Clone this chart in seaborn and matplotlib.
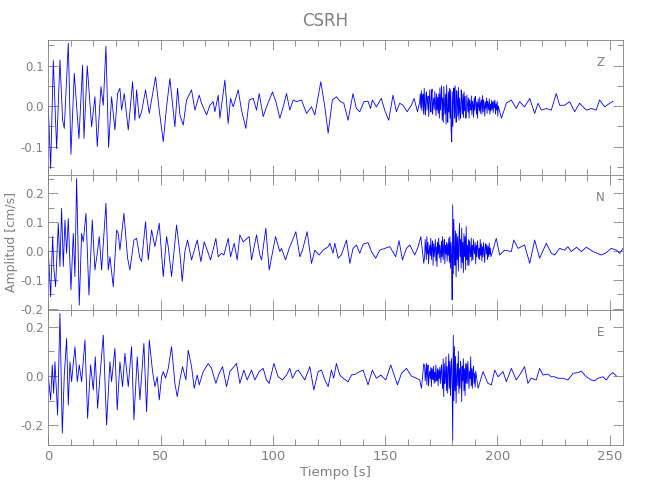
import numpy as np
import pandas as pd
import matplotlib
matplotlib.use("Agg")
import matplotlib.pyplot as plt
import seaborn as sns
from matplotlib.ticker import MultipleLocator, FormatStrFormatter

# --- datos leidos del sismograma (extremos aproximados) ---
z_time = [0.0, 1.04, 2.23, 3.71, 5.19, 6.38, 7.12, 8.90, 10.09, 11.57, 13.65, 15.28, 15.88, 17.36,
          19.29, 20.77, 21.81, 23.44, 24.48, 25.67, 26.85, 28.19, 29.67, 30.86, 31.90, 32.64, 33.83,
          35.61, 37.54, 38.58, 39.32, 40.50, 41.54, 43.32, 44.96, 47.77, 49.41, 51.19, 52.67, 54.15,
          56.38, 57.57, 58.61, 60.09, 61.57, 63.80, 65.28, 67.21, 68.25, 70.47, 71.96, 73.44, 74.18,
          75.67, 76.41, 78.64, 80.12, 81.16, 82.34, 84.57, 86.05, 87.98, 89.47, 91.25, 92.73, 93.92,
          95.70, 97.18, 99.85, 101.34, 103.12, 104.60, 106.08, 107.57, 109.05, 110.53, 112.76, 114.99,
          117.21, 118.69, 121.36, 123.15, 124.63, 126.5, 128.3, 130.1, 131.6, 133.5, 135.7, 137.2,
          138.7, 140.6, 142.4, 143.5, 144.3, 146.1, 148.3, 149.8, 151.6, 153.5, 155.0, 156.5, 158.0,
          159.8, 161.7, 162.9, 164.4,
          201.8, 204.0, 206.2, 208.4, 209.9, 212.1, 214.4, 216.6, 218.1, 219.6, 221.8, 224.0, 226.2,
          227.7, 229.9, 232.2, 234.4, 236.6, 239.6, 241.8, 244.0, 245.5, 247.8, 250.0, 251.5]
z_amp = [0.0, -0.154, 0.112, -0.105, 0.114, -0.035, -0.055, 0.155, -0.119, 0.081, -0.080, 0.101, -0.080,
         0.099, -0.051, 0.023, -0.100, 0.048, 0.002, 0.148, -0.102, 0.023, -0.059, 0.031, 0.044, -0.010,
         0.031, -0.059, 0.060, -0.035, 0.040, -0.030, -0.014, 0.040, -0.018, 0.072, -0.010, -0.088,
         -0.002, 0.068, -0.051, 0.044, -0.022, -0.047, 0.015, 0.040, -0.010, 0.027, 0.007, -0.022,
         0.002, 0.011, -0.014, 0.027, -0.030, 0.064, -0.043, 0.019, -0.002, 0.040, -0.010, -0.055,
         0.015, 0.019, -0.010, 0.031, -0.026, -0.002, 0.035, 0.011, -0.030, -0.002, 0.031, -0.010,
         0.015, 0.011, 0.015, -0.018, -0.002, -0.022, 0.060, -0.002, -0.067, 0.015, 0.023, 0.011,
         0.007, -0.035, 0.031, -0.006, -0.014, 0.011, 0.012, -0.006, 0.015, -0.002, 0.019, -0.010,
         -0.035, 0.027, -0.014, 0.007, 0.002, -0.014, 0.002, 0.019, -0.014,
         -0.030, 0.007, 0.015, -0.006, 0.011, -0.002, 0.019, -0.018, 0.007, -0.010, -0.006, -0.010,
         0.031, 0.002, 0.002, 0.011, -0.014, 0.007, -0.010, -0.006, -0.010, 0.015, -0.002, 0.007, 0.012]
z_burst_t0 = 165.4
z_burst = [0.01, 0.03, -0.005, 0.038, -0.012, 0.02, 0.03, -0.02, 0.044, 0.0,
           -0.022, 0.028, 0.035, -0.01, 0.015, 0.025, -0.026, 0.01, 0.04, 0.005,
           -0.015, 0.03, 0.042, -0.02, 0.005, 0.02, -0.008, 0.036, 0.01, -0.024,
           0.03, -0.01, 0.022, -0.018, 0.03,
           -0.03, 0.045, -0.01, 0.02, 0.05, -0.035, 0.02, -0.04, 0.048, 0.005,
           -0.02, 0.03, -0.045, 0.052, -0.01, -0.04, 0.035, -0.015, 0.044, -0.03,
           0.04, -0.06, -0.088, 0.035, -0.05, 0.02, 0.045, -0.03, 0.05, -0.015,
           -0.04, 0.038, 0.01, -0.025, 0.046, -0.035, 0.02, -0.01, -0.03, 0.04,
           0.015, -0.02, 0.03, -0.028, 0.035, -0.012, 0.024, -0.03,
           -0.025, 0.027, 0.005, -0.015, 0.02, -0.03, 0.015, 0.0, -0.01, 0.025,
           -0.022, 0.012, 0.004, -0.028, 0.02, -0.01, 0.024, 0.008, -0.02, 0.01,
           -0.03, 0.018, 0.002, -0.012, 0.022, -0.018, 0.008, 0.015, -0.02, 0.026,
           -0.014, 0.015, 0.0, -0.025, 0.01, -0.005, 0.02, -0.018, 0.012, 0.004,
           -0.01, 0.018, -0.02, 0.005, -0.012, 0.014, -0.008, 0.01, -0.016, 0.012,
           -0.004, 0.015, -0.02, 0.006, -0.01, 0.012, -0.025, 0.0]

n_time = [0.0, 1.04, 1.93, 2.52, 3.26, 4.45, 5.19, 5.93, 6.68, 7.42, 8.16, 8.90, 10.09, 11.13, 11.87,
          12.61, 13.80, 14.84, 15.58, 16.77, 18.10, 19.58, 20.77, 21.81, 22.70, 23.74, 25.67, 26.71,
          27.45, 28.93, 30.42, 31.16, 31.90, 33.68, 35.31, 36.35, 38.13, 39.32, 40.80, 41.54, 43.32,
          44.51, 45.99, 47.48, 49.41, 51.19, 52.67, 53.41, 54.90, 57.12, 58.61, 59.64, 60.83, 62.02,
          63.80, 66.32, 67.95, 69.44, 70.77, 72.26, 74.63, 75.67, 77.15, 78.19, 80.12, 81.16, 82.79,
          84.12, 85.31, 86.80, 89.47, 90.50, 92.73, 94.21, 94.96, 96.88, 98.37, 101.19, 103.12, 103.86,
          105.64, 107.27, 110.24, 112.02, 113.20, 115.28, 117.21, 118.69, 120.62, 122.40, 124.63,
          125.4, 126.8, 127.6, 129.1, 130.5, 132.8, 134.3, 135.7, 137.2, 138.7, 140.2, 142.4, 143.9,
          145.8, 147.6, 149.8, 152.1, 154.7, 156.2, 157.7, 159.5, 161.0, 163.2, 164.7, 165.9, 167.2,
          198.0, 199.5, 201.0, 203.2, 206.2, 207.3, 209.2, 212.1, 214.4, 216.6, 218.8, 221.8, 224.0,
          225.5, 227.7, 229.9, 231.4, 232.9, 235.2, 237.4, 239.6, 242.6, 246.3, 248.5, 250.7, 253.0,
          254.5, 255.9]
n_amp = [0.0, -0.159, 0.050, -0.066, -0.124, 0.096, -0.054, 0.148, -0.054, 0.108, -0.008, 0.113, -0.135,
         0.061, -0.089, 0.252, -0.188, 0.061, 0.032, 0.131, -0.153, 0.108, -0.066, -0.008, 0.050, -0.066,
         0.166, -0.066, -0.020, -0.124, 0.073, 0.061, 0.003, 0.131, -0.025, -0.066, 0.038, 0.044, -0.025,
         -0.037, 0.102, -0.031, 0.073, 0.015, 0.096, -0.089, 0.050, 0.015, -0.089, 0.090, -0.008, -0.106,
         -0.002, 0.038, -0.031, 0.038, -0.037, 0.032, 0.003, -0.031, 0.044, -0.020, -0.008, -0.014,
         0.044, -0.020, 0.027, -0.031, 0.056, 0.032, 0.050, -0.031, 0.056, -0.014, -0.031, 0.079,
         -0.066, 0.050, -0.002, 0.009, -0.031, 0.009, 0.067, -0.020, 0.003, 0.067, -0.043, 0.003,
         -0.014, 0.003, 0.015,
         0.027, -0.008, 0.027, -0.025, -0.014, 0.038, -0.043, 0.009, 0.021, -0.008, 0.024, 0.029, -0.002,
         -0.025, 0.003, 0.009, 0.015, -0.020, 0.036, -0.031, 0.009, 0.021, -0.014, 0.015, 0.050, -0.043,
         0.003, 0.044, -0.014, 0.003, -0.002, 0.038, 0.009, 0.021, -0.043, 0.038, -0.025, 0.027, -0.008,
         -0.014, 0.009, 0.003, 0.015, -0.002, 0.013, -0.002, 0.013, -0.002, -0.014, -0.006, 0.009, 0.003,
         -0.008, 0.009]
n_burst_t0 = 167.6
n_burst = [-0.02, 0.04, 0.01, -0.03, 0.05, -0.01, 0.03, -0.045, 0.0, 0.02,
           -0.015, 0.045, -0.03, 0.01, 0.035, -0.05, 0.025, -0.02, 0.01, 0.04,
           -0.035, 0.015, -0.054, 0.03, -0.01, 0.045, -0.025, 0.02, 0.0, -0.04,
           0.035, -0.02, 0.05, -0.03, 0.01, 0.04, -0.045, 0.02, -0.01, 0.03,
           -0.035, 0.025, -0.015, 0.045,
           -0.04, 0.05, -0.06, 0.03, -0.02, -0.17, 0.16, -0.08, 0.11, 0.0,
           -0.05, 0.07, -0.09, 0.06, -0.03, 0.05, -0.07, 0.03, 0.096, -0.02,
           0.04, -0.06, 0.08, -0.04, 0.03, -0.075, 0.06, -0.02, 0.05, -0.065,
           0.085, -0.03, 0.02, -0.05, 0.04,
           -0.05, 0.035, 0.0, -0.02, 0.045, -0.035, 0.02, -0.03, 0.04, 0.005,
           -0.01, 0.03, -0.045, 0.02, -0.02, 0.035, 0.01, -0.025, 0.01, -0.03,
           0.04, -0.015, 0.025, -0.035, 0.015, -0.02, 0.03, 0.0, -0.04, 0.01,
           0.025, -0.01, 0.02, -0.03, 0.015, -0.02, 0.028, -0.012, 0.01, -0.02]

e_time = [0.0, 1.04, 1.78, 2.37, 2.97, 4.15, 5.19, 6.23, 7.12, 8.16, 8.90, 9.64, 10.39, 11.13, 11.87,
          12.91, 13.80, 14.84, 16.32, 17.51, 18.84, 20.03, 20.92, 21.96, 23.00, 24.48, 25.96, 27.45,
          28.19, 29.67, 30.71, 31.90, 33.09, 34.12, 35.61, 37.09, 38.13, 39.61, 40.80, 42.58, 43.77,
          44.96, 46.44, 47.48, 48.52, 49.41, 50.45, 51.19, 52.23, 53.41, 54.90, 56.38, 57.42, 58.61,
          59.79, 61.28, 62.31, 63.80, 64.99, 66.32, 67.21, 68.99, 71.22, 72.70, 74.63, 76.11, 77.60,
          79.38, 80.86, 82.05, 83.83, 85.31, 87.09, 88.58, 90.50, 91.99, 93.92, 95.70, 97.18, 98.37,
          100.45, 102.37, 104.30, 106.08, 107.57, 108.75, 110.24, 111.28, 112.76, 114.24, 116.47,
          118.25, 120.18, 121.66, 123.15, 124.63, 126.1, 127.1, 128.3, 129.8, 131.3, 133.5, 135.0,
          136.9, 138.7, 140.2, 142.4, 144.3, 146.1, 148.1, 150.3, 152.5, 154.3, 155.5, 157.3, 159.5,
          161.7, 163.9, 165.4, 166.2, 167.2,
          191.4, 193.6, 195.8, 197.3, 198.8, 200.3, 202.5, 204.0, 206.2, 208.4, 209.9, 212.1, 213.6,
          215.1, 217.3, 218.8, 220.3, 222.5, 224.0, 225.5, 227.0, 229.2, 231.4, 233.7, 235.9, 237.4,
          239.6, 241.8, 243.3, 244.8, 247.0, 248.5, 250.0, 251.5, 253.0]
e_amp = [0.0, -0.097, 0.045, -0.070, 0.058, -0.158, 0.254, -0.232, 0.004, 0.153, -0.118, 0.058, -0.023,
         0.051, 0.119, -0.023, 0.045, -0.023, 0.146, -0.172, 0.045, -0.057, 0.078, -0.131, -0.003, 0.166,
         -0.199, 0.058, -0.023, 0.112, -0.138, 0.058, -0.043, 0.092, -0.043, 0.119, -0.178, 0.078,
         -0.097, 0.132, -0.145, 0.146, 0.018, -0.043, -0.003, -0.097, -0.003, 0.018, -0.009, 0.031,
         0.119, -0.030, -0.084, -0.016, 0.038, -0.016, 0.105, 0.038, -0.050, 0.004, -0.036, 0.018,
         0.051, 0.031, -0.030, 0.011, 0.038, -0.043, 0.018, 0.031, 0.051, -0.030, 0.024, -0.016, 0.024,
         -0.016, 0.018, 0.031, -0.016, -0.030, 0.051, -0.003, -0.016, 0.004, 0.031, -0.009, 0.018,
         0.024, 0.004, -0.016, 0.038, -0.057, 0.018, 0.024, -0.016, -0.043, 0.024, -0.009, 0.051,
         0.004, -0.009, -0.023, 0.004, 0.008, 0.018, 0.024, -0.036, 0.024, -0.009, 0.004, -0.016,
         0.045, -0.003, -0.036, 0.011, 0.031, 0.0, -0.009, -0.016, -0.050, 0.050,
         -0.050, 0.018, -0.030, -0.036, 0.024, -0.003, 0.018, -0.023, 0.031, -0.016, 0.004, 0.038,
         -0.030, -0.009, -0.016, 0.031, 0.004, 0.008, -0.003, -0.003, -0.009, -0.009, -0.016, 0.011,
         0.014, 0.020, -0.003, -0.016, -0.019, -0.009, -0.003, -0.016, 0.004, 0.014, 0.0]
e_burst_t0 = 167.6
e_burst = [0.04, -0.02, 0.01, 0.05, -0.035, 0.01, 0.045, -0.04, 0.0, 0.02,
           -0.01, 0.035, -0.043, 0.03, 0.005, -0.015, 0.04, -0.03, 0.015, -0.025,
           0.045, 0.0, -0.02, 0.03, -0.04, 0.025, -0.01, 0.035, -0.03, 0.02,
           0.045, -0.02,
           -0.05, 0.07, -0.084, 0.05, -0.03, 0.0, 0.078, -0.06, 0.04, -0.07,
           0.02, 0.09, -0.05, 0.06, -0.08, 0.03, 0.07, -0.04,
           -0.26, 0.166, -0.1, 0.12, -0.06, 0.08, -0.11, 0.0, 0.05, -0.04,
           0.1, -0.07, 0.03, -0.05, 0.06, 0.02, -0.104, 0.04, -0.02, 0.07,
           -0.06, 0.03, -0.08, 0.05, -0.03,
           0.05, -0.03, 0.06, 0.0, -0.05, 0.02, -0.01, 0.078, -0.04, 0.03,
           -0.05, 0.02, 0.04, -0.03, 0.01, -0.045, 0.02]
burst_step = 0.25

channels = ["Z", "N", "E"]
ylims = [(-0.170, 0.163), (-0.205, 0.264), (-0.280, 0.268)]
y_major = [0.1, 0.1, 0.2]
y_minor = [0.05, 0.05, 0.1]


def build(times, amps, b_t0, b_vals):
    bt = b_t0 + burst_step * np.arange(len(b_vals))
    df = pd.DataFrame({"t": np.concatenate([times, bt]),
                       "a": np.concatenate([amps, b_vals])})
    return df.sort_values("t")


frames = [build(z_time, z_amp, z_burst_t0, z_burst),
          build(n_time, n_amp, n_burst_t0, n_burst),
          build(e_time, e_amp, e_burst_t0, e_burst)]

sns.set_style("ticks")
plt.rcParams["font.family"] = ["DejaVu Sans"]
gray = "#7f7f7f"

fig, axes = plt.subplots(3, 1, figsize=(6.5, 5), dpi=100, sharex=True)
fig.subplots_adjust(left=0.0743, right=0.958, top=0.92, bottom=0.11, hspace=0)

for i, ax in enumerate(axes):
    sns.lineplot(data=frames[i], x="t", y="a", ax=ax, color="#0000ff", lw=0.6,
                 estimator=None, sort=True)
    ax.set_xlim(0, 255.8)
    ax.set_ylim(*ylims[i])
    ax.set_xlabel("")
    ax.set_ylabel("")
    ax.xaxis.set_major_locator(MultipleLocator(50))
    ax.xaxis.set_minor_locator(MultipleLocator(10))
    ax.yaxis.set_major_locator(MultipleLocator(y_major[i]))
    ax.yaxis.set_minor_locator(MultipleLocator(y_minor[i]))
    ax.yaxis.set_major_formatter(FormatStrFormatter("%.1f"))
    ax.tick_params(which="both", direction="in", top=True, right=True, colors=gray,
                   labelcolor=gray, labelsize=8.5, width=0.6)
    ax.tick_params(which="major", length=7)
    ax.tick_params(which="minor", length=4)
    for sp in ax.spines.values():
        sp.set_color(gray)
        sp.set_linewidth(0.6)
    ax.text(0.968, 0.83, channels[i], transform=ax.transAxes, ha="right", va="center",
            color=gray, fontsize=8.5)

axes[-1].tick_params(axis="x", labelsize=9.5)
axes[-1].set_xlabel("Tiempo [s]", color=gray, fontsize=9.5, labelpad=2)
fig.text(0.018, 0.515, "Amplitud [cm/s]", rotation=90, ha="center", va="center",
         color=gray, fontsize=9)
fig.suptitle("CSRH", color=gray, fontsize=12, y=0.975)

fig.savefig("out.png", dpi=100)
